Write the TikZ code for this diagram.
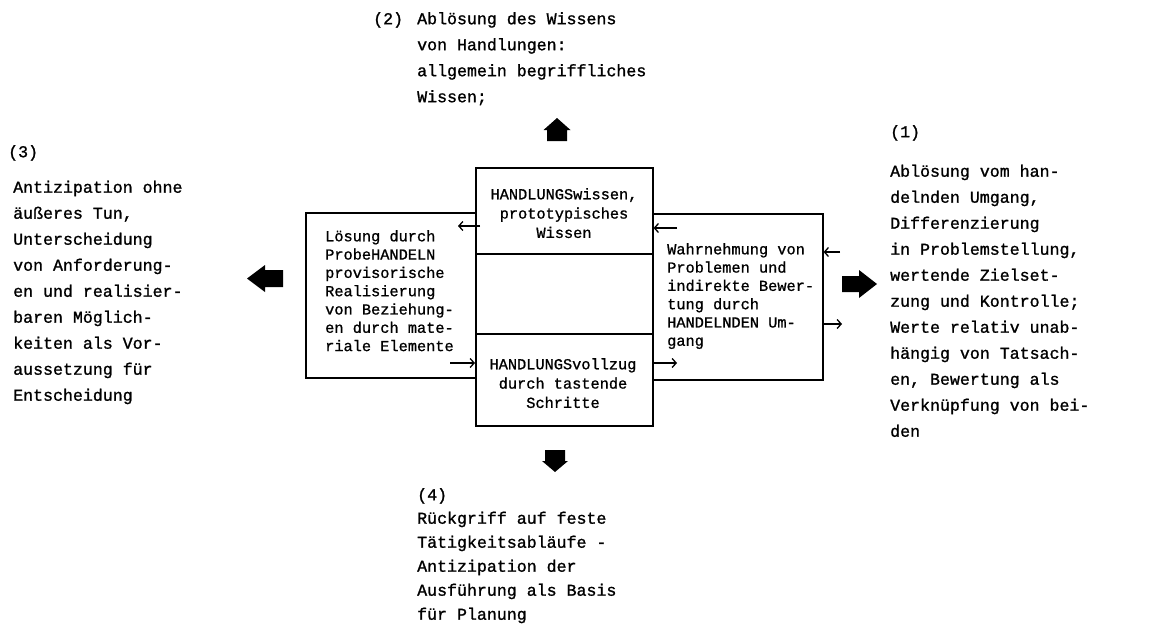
\documentclass[tikz,border=0pt]{standalone}
\usepackage{fontspec}
\newfontfamily\tw[FakeBold=1.2]{Liberation Mono}
\newfontfamily\twi[FakeBold=1.0]{Liberation Mono}
\usetikzlibrary{arrows.meta,calc}
\begin{document}
\begin{tikzpicture}[x=1pt,y=-1pt,
  box/.style={draw, line width=1.6pt, inner sep=0pt, anchor=north west},
  outer/.style={font=\tw\fontsize{16.6}{26}\selectfont, align=left, anchor=north west, inner sep=0pt},
  inner/.style={font=\twi\fontsize{15.3}{18.3}\selectfont, align=left, anchor=north west, inner sep=0pt},
  innerc/.style={font=\twi\fontsize{15.3}{19.3}\selectfont, align=center, anchor=north, inner sep=0pt},
  sarrow/.style={line width=1.3pt, -{Straight Barb[length=4pt,width=9pt]}},
  bigarrow/.style={fill=black}]
\fill[white] (0,0) rectangle (1170,626);
\useasboundingbox (0,0) rectangle (1170,626);

% boxes
\node[box, minimum width=177pt, minimum height=86pt] (ctop) at (475,167) {};
\node[box, minimum width=177pt, minimum height=80pt] (cmid) at (475,253) {};
\node[box, minimum width=177pt, minimum height=92pt] (cbot) at (475,333) {};
\node[box, minimum width=170pt, minimum height=165pt] (lbox) at (305,212) {};
\node[box, minimum width=170pt, minimum height=166pt] (rbox) at (652,213) {};

% inner texts
\node[innerc] (ctopt) at (564,188) {HANDLUNGSwissen,\\prototypisches\\Wissen};
\node[innerc] (cbott) at (563,358) {HANDLUNGSvollzug\\durch tastende\\Schritte};
\node[inner] (lboxt) at (325,230) {Lösung durch\\ProbeHANDELN\\provisorische\\Realisierung\\von Beziehung-\\en durch mate-\\riale Elemente};
\node[inner] (rboxt) at (667,243) {Wahrnehmung von\\Problemen und\\indirekte Bewer-\\tung durch\\HANDELNDEN Um-\\gang};

% small arrows
\coordinate (a1s) at (480,226);
\coordinate (a1e) at (458,226);
\draw[sarrow] (a1s) -- (a1e);
\coordinate (a2s) at (677,228);
\draw[sarrow] (a2s) -- (a2s -| ctop.east);
\coordinate (a3s) at (840,252);
\draw[sarrow] (a3s) -- (a3s -| rbox.east);
\coordinate (a4e) at (842,324);
\draw[sarrow] (a4e -| rbox.east) -- (a4e);
\coordinate (a5s) at (450,363);
\draw[sarrow] (a5s) -- (a5s -| cbot.west);
\coordinate (a6e) at (677,363);
\draw[sarrow] (a6e -| cbot.east) -- (a6e);

% big arrows
\fill[bigarrow] (557,118) -- (570.5,130) -- (567,130) -- (567,141) -- (547,141) -- (547,130) -- (543.5,130) -- cycle;
\fill[bigarrow] (555,472) -- (568,461) -- (565,461) -- (565,450) -- (545,450) -- (545,461) -- (542,461) -- cycle;
\fill[bigarrow] (247,278.5) -- (265,265) -- (265,270) -- (283,270) -- (283,287) -- (265,287) -- (265,292) -- cycle;
\fill[bigarrow] (877,284) -- (859,270) -- (859,276) -- (842,276) -- (842,292) -- (859,292) -- (859,298) -- cycle;

% outer texts
\node[outer] (t2) at (373,12) {\makebox[44pt][l]{(2)}Ablösung des Wissens\\\hspace*{44pt}von Handlungen:\\\hspace*{44pt}allgemein begriffliches\\\hspace*{44pt}Wissen;};
\node[outer] (h1) at (890,125) {(1)};
\node[outer] (t1) at (890,164.5) {Ablösung vom han-\\delnden Umgang,\\Differenzierung\\in Problemstellung,\\wertende Zielset-\\zung und Kontrolle;\\Werte relativ unab-\\hängig von Tatsach-\\en, Bewertung als\\Verknüpfung von bei-\\den};
\node[outer] (h3) at (8,145) {(3)};
\node[outer] (t3) at (13,180.5) {Antizipation ohne\\äußeres Tun,\\Unterscheidung\\von Anforderung-\\en und realisier-\\baren Möglich-\\keiten als Vor-\\aussetzung für\\Entscheidung};
\node[outer] (h4) at (417,488) {(4)};
\node[outer, font=\tw\fontsize{16.6}{24}\selectfont] (t4) at (417,511.5) {Rückgriff auf feste\\Tätigkeitsabläufe -\\Antizipation der\\Ausführung als Basis\\für Planung};
\end{tikzpicture}
\end{document}
